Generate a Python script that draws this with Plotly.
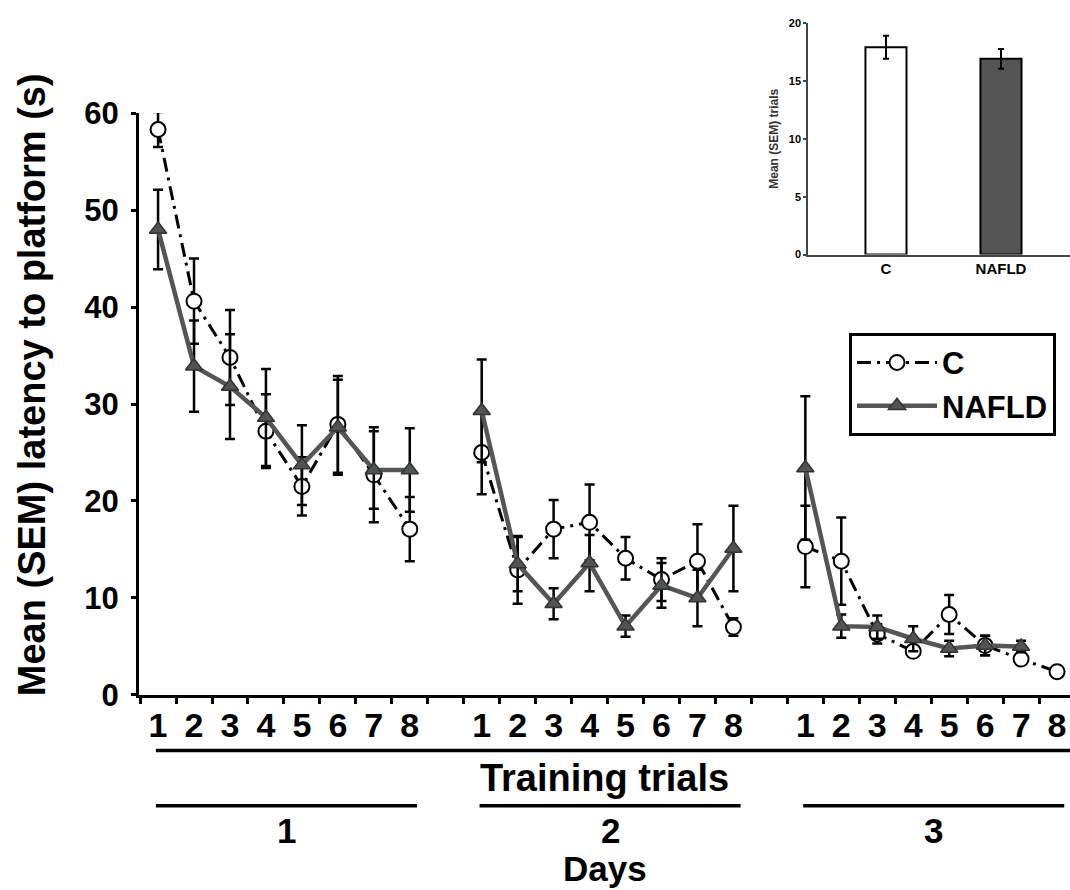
import plotly.graph_objects as go

# ---------------- data ----------------
days = [1, 2, 3]
trials = [1, 2, 3, 4, 5, 6, 7, 8]
trial_labels = ["1", "2", "3", "4", "5", "6", "7", "8"]

c_day1 = [58.3, 40.6, 34.8, 27.2, 21.5, 27.9, 22.7, 17.1]
c_sem1 = [1.8, 4.4, 4.9, 3.8, 3.0, 5.0, 4.9, 3.3]
c_day2 = [25.0, 12.9, 17.1, 17.8, 14.1, 11.9, 13.8, 7.0]
c_sem2 = [4.3, 3.5, 3.0, 3.9, 2.2, 2.2, 3.8, 0.9]
c_day3 = [15.3, 13.8, 6.3, 4.5, 8.3, 5.1, 3.7, 2.4]
c_sem3 = [4.2, 4.5, 1.0, 0.5, 2.0, 1.0, 0.4, 0.3]

n_day1 = [48.0, 33.9, 31.8, 28.6, 23.7, 27.6, 23.2, 23.2]
n_sem1 = [4.1, 4.7, 5.4, 5.0, 4.1, 4.9, 4.0, 4.3]
n_day2 = [29.3, 13.5, 9.4, 13.6, 7.1, 11.3, 10.0, 15.1]
n_sem2 = [5.3, 2.8, 1.6, 2.9, 1.1, 2.3, 2.9, 4.4]
n_day3 = [23.4, 7.1, 7.0, 5.8, 4.8, 5.1, 5.0, None]
n_sem3 = [7.4, 1.2, 1.2, 1.3, 0.8, 1.0, 0.6, None]

inset_groups = ["C", "NAFLD"]
inset_means = [17.9, 16.9]
inset_sem = [1.0, 0.85]

FONT = "Liberation Sans, Arial, sans-serif"
GAP = 1  # empty slot between days on the trial axis


def build(series_list, sem_list):
    xs, ys, es = [], [], []
    for d, (vals, sems) in enumerate(zip(series_list, sem_list)):
        for t, v, e in zip(trials, vals, sems):
            xs.append(d * (len(trials) + GAP) + t)
            ys.append(v)
            es.append(e if e is not None else 0)
        xs.append(None); ys.append(None); es.append(0)
    return xs, ys, es


cx, cy, ce = build([c_day1, c_day2, c_day3], [c_sem1, c_sem2, c_sem3])
nx, ny, ne = build([n_day1, n_day2, n_day3], [n_sem1, n_sem2, n_sem3])

fig = go.Figure()

fig.add_trace(go.Scatter(
    x=cx, y=cy, name="C", mode="lines+markers",
    line=dict(color="black", width=3, dash="14px,6px,3px,6px"),
    marker=dict(symbol="circle", size=15, color="white",
                line=dict(color="black", width=2)),
    error_y=dict(type="data", array=ce, visible=True, color="black",
                 thickness=2.5, width=5),
    cliponaxis=False,
))
fig.add_trace(go.Scatter(
    x=nx, y=ny, name="NAFLD", mode="lines+markers",
    line=dict(color="#555555", width=4.5),
    marker=dict(symbol="triangle-up", size=15, color="#4f554f",
                line=dict(color="#333333", width=1.5)),
    error_y=dict(type="data", array=ne, visible=True, color="black",
                 thickness=2.5, width=5),
    cliponaxis=False,
))

# inset bar chart
fig.add_trace(go.Bar(
    x=inset_groups, y=inset_means, xaxis="x2", yaxis="y2",
    width=0.357, showlegend=False,
    marker=dict(color=["white", "#555555"], line=dict(color="black", width=2)),
    error_y=dict(type="data", array=inset_sem, visible=True, color="black",
                 thickness=2, width=3),
))

# positions of trial labels and half-step tick marks
label_pos, label_txt = [], []
for d in range(len(days)):
    for t, lab in zip(trials, trial_labels):
        label_pos.append(d * (len(trials) + GAP) + t)
        label_txt.append(lab)
n_slots = len(days) * (len(trials) + GAP)
minor_pos = [k + 0.5 for k in range(0, n_slots)]

x_lo, x_hi = 0.47, 26.36

fig.update_layout(
    width=1070, height=890,
    margin=dict(l=139, r=0, t=10, b=195),
    paper_bgcolor="white", plot_bgcolor="rgba(0,0,0,0)",
    font=dict(family=FONT, color="black"),
    showlegend=True,
    legend=dict(
        x=(849 - 139) / 931, y=(695 - 329) / 685, xanchor="left", yanchor="top",
        bordercolor="black", borderwidth=3, bgcolor="white",
        font=dict(size=31, family=FONT, weight="bold", color="black"),
        itemwidth=80, tracegroupgap=0,
    ),
    xaxis=dict(
        range=[x_lo, x_hi], domain=[0, 1],
        tickmode="array", tickvals=label_pos, ticktext=label_txt,
        ticks="outside", ticklen=0, ticklabelstandoff=-2,
        tickfont=dict(size=34, family=FONT, weight="bold"),
        minor=dict(tickmode="array", tickvals=minor_pos, ticks="outside",
                   ticklen=6, tickwidth=2.5, tickcolor="black"),
        showline=True, linecolor="black", linewidth=3,
        showgrid=False, zeroline=False,
        title=dict(text="Training trials", standoff=22,
                   font=dict(size=38, family=FONT, weight="bold")),
    ),
    yaxis=dict(
        range=[0, 60], domain=[0, (695 - 107) / 685],
        tickvals=[0, 10, 20, 30, 40, 50, 60],
        ticks="outside", ticklen=5, tickwidth=2.5, tickcolor="black",
        ticklabelstandoff=6,
        tickfont=dict(size=31, family=FONT, weight="bold"),
        showline=True, linecolor="black", linewidth=3,
        showgrid=False, zeroline=False,
    ),
    xaxis2=dict(
        domain=[(808 - 139) / 931, 1.0], anchor="y2",
        range=[-0.678, 1.6], type="category",
        showline=True, linecolor="#444444", linewidth=1.5,
        ticks="", showgrid=False, zeroline=False,
        tickfont=dict(size=15, family=FONT, weight="bold"),
    ),
    yaxis2=dict(
        domain=[(695 - 250) / 685, (695 - 16) / 685], anchor="x2",
        range=[0, 20], tickvals=[0, 5, 10, 15, 20],
        ticks="outside", ticklen=3, tickwidth=1.5, tickcolor="#444444",
        showline=True, linecolor="#444444", linewidth=1.5,
        showgrid=False, zeroline=False,
        tickfont=dict(size=11, family=FONT, weight="bold"),
        title=dict(text="Mean (SEM) trials", standoff=8,
                   font=dict(size=12, family=FONT, weight="bold", color="#333333")),
    ),
)

# y-axis title of main panel
fig.add_annotation(
    text="Mean (SEM) latency to platform (s)", textangle=-90,
    xref="paper", yref="paper", x=(32 - 139) / 931, y=(695 - 382) / 685,
    xanchor="center", yanchor="middle", showarrow=False,
    font=dict(size=38, family=FONT, weight="bold", color="black"),
)

# underline under trial labels
first_pos = label_pos[0]
fig.add_shape(type="line", xref="x", yref="paper",
              x0=first_pos - 0.06, x1=x_hi, y0=(695 - 751) / 685, y1=(695 - 751) / 685,
              line=dict(color="black", width=3.5))

# day lines & labels
for d, day in enumerate(days):
    start = d * (len(trials) + GAP) + trials[0]
    end = d * (len(trials) + GAP) + trials[-1]
    fig.add_shape(type="line", xref="x", yref="paper",
                  x0=start - 0.06, x1=end + 0.2,
                  y0=(695 - 807) / 685, y1=(695 - 807) / 685,
                  line=dict(color="black", width=3.5))
    fig.add_annotation(text=str(day), xref="x", yref="paper",
                       x=(start - 0.06 + end + 0.2) / 2, y=(695 - 832) / 685,
                       xanchor="center", yanchor="middle", showarrow=False,
                       font=dict(size=35, family=FONT, weight="bold", color="black"))

fig.add_annotation(text="Days", xref="paper", yref="paper",
                   x=(605 - 139) / 931, y=(695 - 870) / 685,
                   xanchor="center", yanchor="middle", showarrow=False,
                   font=dict(size=35, family=FONT, weight="bold", color="black"))

fig.write_html("out.html")
